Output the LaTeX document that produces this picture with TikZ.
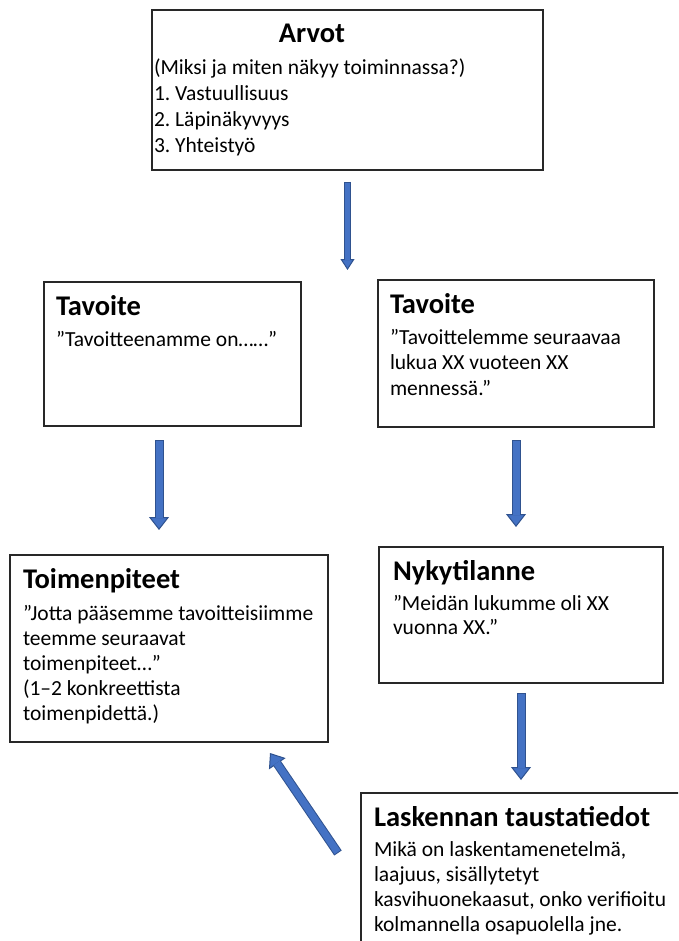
\documentclass[tikz,border=0pt]{standalone}
\usepackage{fontspec}
\setmainfont{Carlito}
\usetikzlibrary{arrows.meta,calc}
\definecolor{box_edge}{RGB}{40,40,40}
\definecolor{arrow_fill}{RGB}{68,114,196}
\definecolor{arrow_edge}{RGB}{47,82,143}
\newcommand{\ttl}{\fontsize{28.5}{34}\selectfont\bfseries}
\newcommand{\bdy}[1]{\fontsize{21.5}{#1}\selectfont}
\frenchspacing

\begin{document}
\begin{tikzpicture}[x=1pt,y=-1pt]
    \tikzstyle{box}=[draw=box_edge, line width=1.3pt, rectangle, inner sep=0pt, outer sep=0pt, anchor=north west]
    \tikzstyle{flow}=[draw=arrow_edge, line width=9pt, -{Triangle[width=20pt,length=13pt,fill=arrow_fill,line width=1pt]},
        postaction={draw=arrow_fill, line width=7pt, -, shorten >=12pt, shorten <=1pt}]
    \tikzstyle{thinflow}=[draw=arrow_edge, line width=6.5pt, -{Triangle[width=14pt,length=11pt,fill=arrow_fill,line width=1pt]},
        postaction={draw=arrow_fill, line width=4.5pt, -, shorten >=10pt, shorten <=1pt}]

    \useasboundingbox (0,0) rectangle (678,941);
    \clip (0,0) rectangle (678,941);

    % boxes
    \node[box] (arvot) at (152,10) {\parbox[t][160pt][t]{391pt}{\raggedright\leftskip=2pt
        \rule{0pt}{33pt}\makebox[316pt]{\ttl Arvot}\par\vspace{6pt}
        \bdy{26}(Miksi ja miten näkyy toiminnassa?)\\1. Vastuullisuus\\2. Läpinäkyvyys\\3. Yhteistyö}};
    \node[box] (tavL) at (44,282) {\parbox[t][144pt][t]{257pt}{\raggedright\leftskip=12pt
        \rule{0pt}{33pt}{\ttl Tavoite}\par\vspace{6pt}
        \bdy{25}”Tavoitteenamme on……”}};
    \node[box] (tavR) at (378,280) {\parbox[t][147pt][t]{276pt}{\raggedright\leftskip=12pt
        \rule{0pt}{33pt}{\ttl Tavoite}\par\vspace{5.5pt}
        \bdy{25.5}”Tavoittelemme seuraavaa\\lukua XX vuoteen XX\\mennessä.”}};
    \node[box] (toim) at (10,555) {\parbox[t][187pt][t]{318pt}{\raggedright\leftskip=13pt
        \rule{0pt}{33pt}{\ttl Toimenpiteet}\par\vspace{7pt}
        \bdy{25}”Jotta pääsemme tavoitteisiimme\\teemme seuraavat\\toimenpiteet…”\\(1–2 konkreettista\\toimenpidettä.)}};
    \node[box] (nyky) at (379,547) {\parbox[t][136pt][t]{284pt}{\raggedright\leftskip=14pt
        \rule{0pt}{33pt}{\ttl Nykytilanne}\par\vspace{6pt}
        \bdy{24}”Meidän lukumme oli XX\\vuonna XX.”}};
    \node[box] (lask) at (361,793) {\parbox[t][187pt][t]{339pt}{\raggedright\leftskip=13pt
        \rule{0pt}{33pt}{\ttl Laskennan taustatiedot}\par\vspace{5pt}
        \bdy{25}Mikä on laskentamenetelmä,\\laajuus, sisällytetyt\\kasvihuonekaasut, onko verifioitu\\kolmannella osapuolella jne.}};

    % arrows
    \coordinate (a1end) at (347.5,270);
    \draw[thinflow] ($(arvot.south)+(0,12)$) -- (a1end);
    \draw[flow] ($(tavL.south)+(-13.5,14)$) -- ($(tavL.south |- toim.north)+(-13.5,-25)$);
    \draw[flow] ($(tavR.south)+(0,13)$) -- ($(tavR.south |- nyky.north)+(0,-20)$);
    \draw[flow] ($(nyky.south)+(0,10)$) -- ($(nyky.south |- lask.north)+(0,-13)$);
    \draw[flow] ($(lask.north west)+(-23,60)$) -- ($(toim.south east)+(-58,11)$);
\end{tikzpicture}
\end{document}
